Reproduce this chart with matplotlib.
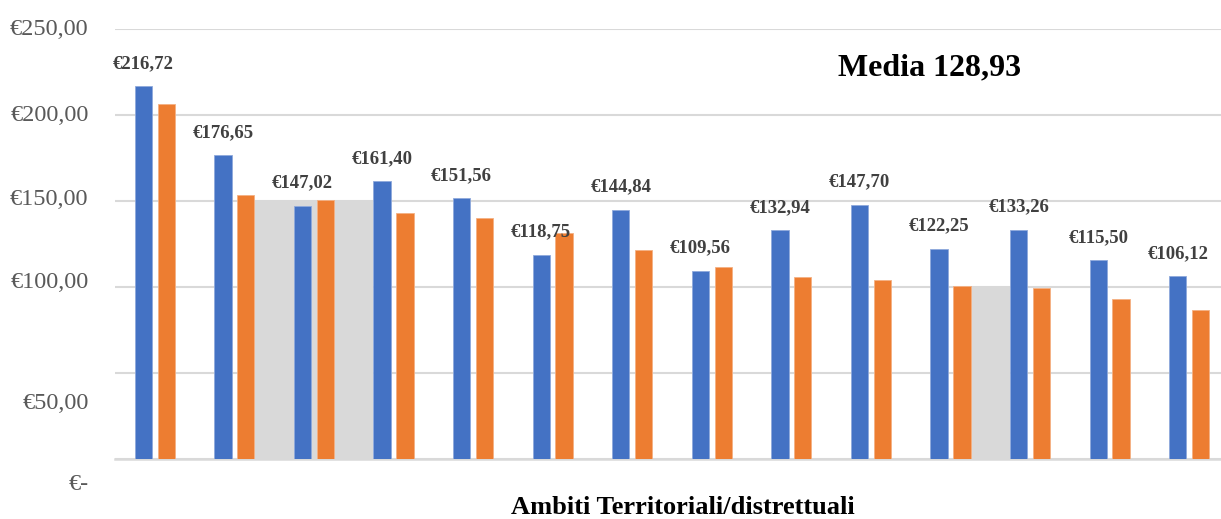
import matplotlib
matplotlib.use("Agg")
import matplotlib.pyplot as plt
import matplotlib.transforms as mtransforms
import numpy as np

# --- dati ---
valori_blu = [216.72, 176.65, 147.02, 161.40, 151.56, 118.75, 144.84,
              109.56, 132.94, 147.70, 122.25, 133.26, 115.50, 106.12]
valori_arancio = [206.4, 153.6, 150.4, 142.8, 139.9, 131.6, 121.5,
                  111.5, 105.8, 104.1, 100.6, 99.2, 92.8, 86.6]
etichette_blu = ["€216,72", "€176,65", "€147,02", "€161,40", "€151,56", "€118,75", "€144,84",
                 "€109,56", "€132,94", "€147,70", "€122,25", "€133,26", "€115,50", "€106,12"]

# blocchi grigi di sfondo: (gruppo iniziale, gruppo finale, altezza)
grigio_da = [1, 10]
grigio_a = [3, 11]
grigio_altezza = [150, 100]

tick_valori = [0, 50, 100, 150, 200, 250]
tick_testi = ["€-", "€50,00", "€100,00", "€150,00", "€200,00", "€250,00"]
# spostamento verticale delle etichette asse y (pixel, + = su)
tick_spost = [-23, -28, 7, 4, 2, 2]

MEDIA_TESTO = "Media 128,93"
TITOLO_X = "Ambiti Territoriali/distrettuali"

BLU = "#4472c4"
ARANCIO = "#ed7d31"
GRIGIO = "#d9d9d9"

LARGH = 0.217
OFF = 0.143

plt.rcParams['font.family'] = ['Liberation Serif', 'DejaVu Serif']

fig = plt.figure(figsize=(12.21, 5.19), dpi=100)
ax = fig.add_axes([115 / 1221, 1 - 459 / 519, 1114 / 1221, 430 / 519])

x = np.arange(len(valori_blu))

# sfondo grigio
for a, b, h in zip(grigio_da, grigio_a, grigio_altezza):
    sinistra = a + OFF + LARGH / 2
    destra = b - OFF - LARGH / 2
    ax.bar(sinistra, h, width=destra - sinistra, align='edge', color=GRIGIO, zorder=1)

ax.bar(x - OFF, valori_blu, width=LARGH, color=BLU, edgecolor="#8fa9dc", linewidth=0.6, zorder=3)
ax.bar(x + OFF, valori_arancio, width=LARGH, color=ARANCIO, edgecolor="#f4b183", linewidth=0.6, zorder=3)

for xi, v, t in zip(x, valori_blu, etichette_blu):
    ax.annotate(t, (xi - OFF, v), xytext=(0, 16.5), textcoords='offset points',
                ha='center', va='center', fontsize=13.5, fontweight='bold', color='#404040')

ax.text(0.7316, 0.909, MEDIA_TESTO, transform=ax.transAxes, ha='center', va='center',
        fontsize=23, fontweight='bold', color='black')

ax.set_xlim(-0.5, len(valori_blu) - 0.5)
ax.set_ylim(0, 250)
ax.set_xticks([])
ax.set_yticks(tick_valori)
ax.set_yticklabels(tick_testi, fontsize=17.5, color='#595959')
ax.tick_params(axis='y', length=0, pad=19)
for lab, d in zip(ax.get_yticklabels(), tick_spost):
    lab.set_transform(lab.get_transform() + mtransforms.ScaledTranslation(0, d / 100, fig.dpi_scale_trans))

ax.grid(axis='y', color=GRIGIO, linewidth=1.5, zorder=0)
ax.set_axisbelow(True)
for s in ['top', 'right', 'left']:
    ax.spines[s].set_visible(False)
ax.spines['bottom'].set_color(GRIGIO)
ax.spines['bottom'].set_linewidth(1.8)

fig.text(683 / 1221, 1 - 508 / 519, TITOLO_X, ha='center', va='center',
         fontsize=19, fontweight='bold', color='black')

fig.savefig("out.png", dpi=100)
